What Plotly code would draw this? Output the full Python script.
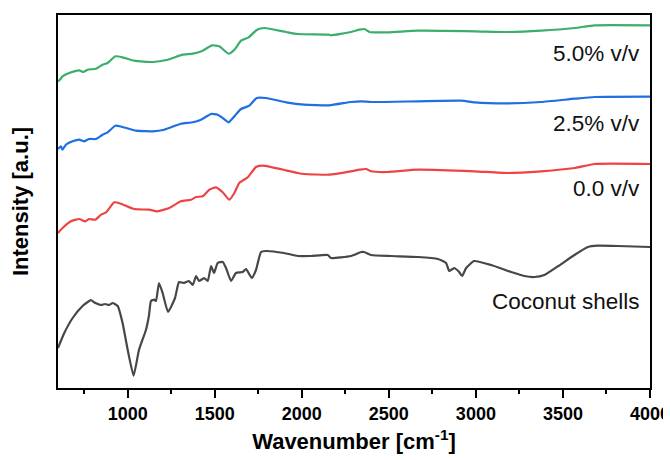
import plotly.graph_objects as go

# Wavenumber (cm-1) and intensity (a.u., offset traces)
coco_w = [600, 636, 684, 741, 779, 789, 815, 847, 870, 893, 914, 943, 971, 996, 1034, 1065, 1105, 1122, 1134, 1153,
          1163, 1180, 1201, 1232, 1272, 1295, 1324, 1352, 1374, 1393, 1410, 1439, 1460, 1479, 1496, 1517, 1546, 1565,
          1594, 1622, 1661, 1680, 1713, 1737, 1766, 1795, 1898, 1977, 2053, 2149, 2168, 2283, 2341, 2358, 2398, 2513,
          2667, 2782, 2829, 2847, 2875, 2904, 2921, 2944, 2990, 3088, 3203, 3278, 3336, 3393, 3474, 3566, 3644, 3701,
          3816, 4000]
coco_i = [40, 55, 70, 82, 87, 88, 85, 83, 84, 83, 85, 82, 65, 42, 12.3, 38, 58, 72, 87, 88.3,
          87, 105, 95, 76, 90, 106, 105, 107, 103, 112, 107, 110, 107, 122, 115, 125, 126, 120,
          107, 115, 116, 119, 110, 118, 136, 137, 135, 132, 132, 133, 130, 132, 136, 136, 133, 132,
          131, 129, 125, 117, 120, 116, 112, 120, 127, 123, 116, 112, 111, 113, 122, 133, 141, 142.3,
          142, 141]

red_w = [600, 626, 674, 722, 756, 779, 814, 847, 876, 923, 961, 1038, 1124, 1172, 1239, 1306, 1364, 1393, 1431, 1469,
         1507, 1546, 1584, 1613, 1641, 1690, 1737, 1776, 1910, 1977, 2013, 2157, 2283, 2331, 2370, 2398, 2494, 2667,
         2992, 3184, 3375, 3567, 3682, 4000]
red_i = [155, 160, 166.7, 169, 166.7, 169, 168.3, 173.3, 175.7, 185.7, 184.3, 179, 178.3, 176.7, 180, 186.7, 188.3,
         191, 191.7, 198.3, 200.7, 195.7, 188.3, 195, 205, 210.7, 221, 222.3, 217.7, 215, 214, 213.3, 216.7, 218.3,
         219, 216.7, 216, 218.3, 216.7, 215, 216.7, 220, 224, 224]

blue_w = [600, 617, 626, 645, 684, 722, 751, 779, 818, 856, 885, 929, 971, 1048, 1144, 1210, 1306, 1374, 1421, 1479,
          1517, 1546, 1580, 1613, 1651, 1699, 1741, 1795, 1910, 2013, 2157, 2283, 2341, 2398, 2667, 2916, 2992, 3184,
          3375, 3567, 3682, 4000]
blue_i = [239, 241.7, 238.3, 243.3, 246.7, 248.3, 246.7, 249, 249, 253.3, 255.7, 262.3, 261, 257.3, 256.7, 258.3,
          264.3, 265.7, 268.3, 274, 273.3, 270, 265.7, 271.7, 279, 282.3, 290, 290, 285.7, 283.3, 282.7, 286, 286.7,
          286, 286.7, 287.3, 285.7, 284.7, 286, 289.3, 291, 291.3]

green_w = [600, 611, 626, 664, 722, 745, 770, 818, 856, 885, 929, 971, 1038, 1144, 1230, 1316, 1374, 1431, 1484,
           1526, 1580, 1613, 1651, 1695, 1743, 1785, 1910, 1977, 2157, 2168, 2283, 2331, 2360, 2389, 2494, 2667, 2992,
           3184, 3375, 3567, 3682, 4000]
green_i = [306.7, 308.3, 311.7, 315, 317.7, 316, 318.3, 319.3, 323.3, 325, 331.7, 330.7, 327.3, 326, 328.3, 333.3,
           334.3, 337.3, 342.7, 341.7, 334.3, 338.3, 347.3, 350.7, 358.3, 360, 356, 354, 353.3, 352.7, 356, 358.3, 359,
           356, 355.7, 357.3, 356.7, 356, 357.3, 360, 362.7, 362.7]

tick_vals = [1000, 1500, 2000, 2500, 3000, 3500, 4000]
minor_vals = [750, 1250, 1750, 2250, 2750, 3250, 3750]

series = [
    ("Coconut shells", coco_w, coco_i, "#474747"),
    ("0.0 v/v", red_w, red_i, "#ee4343"),
    ("2.5% v/v", blue_w, blue_i, "#1f6fe0"),
    ("5.0% v/v", green_w, green_i, "#3cae6c"),
]
label_y = {"Coconut shells": 0.233, "0.0 v/v": 0.535, "2.5% v/v": 0.71, "5.0% v/v": 0.898}

font = "Arial, Liberation Sans"
fig = go.Figure()
for name, w, i, c in series:
    fig.add_trace(go.Scatter(x=w, y=i, mode="lines", name=name,
                             line=dict(color=c, width=2.2, shape="spline", smoothing=0.45)))
    fig.add_annotation(text=name, xref="paper", yref="paper", x=1, y=label_y[name],
                       xanchor="right", yanchor="middle", xshift=-8, showarrow=False,
                       font=dict(family=font, size=22.5, color="#111"))

fig.update_layout(
    width=671, height=460,
    margin=dict(l=50, r=29, t=7, b=80, autoexpand=False),
    paper_bgcolor="white", plot_bgcolor="white",
    showlegend=False,
    xaxis=dict(range=[600, 4000], showgrid=False, zeroline=False, automargin=False,
               showline=True, linecolor="black", linewidth=2, mirror=True,
               ticks="outside", ticklen=8, tickwidth=1.5, tickcolor="black",
               tickvals=tick_vals,
               minor=dict(tickvals=minor_vals, ticks="outside", ticklen=4,
                          tickwidth=1.5, tickcolor="black"),
               tickfont=dict(family=font, size=18, color="black", weight="bold"),
               title=dict(text="Wavenumber [cm<sup>-1</sup>]", standoff=11,
                          font=dict(family=font, size=22, color="black", weight="bold"))),
    yaxis=dict(range=[0, 373], showgrid=False, zeroline=False, showticklabels=False, ticks="", automargin=False,
               showline=True, linecolor="black", linewidth=2, mirror=True,
               title=dict(text="Intensity [a.u.]", standoff=26,
                          font=dict(family=font, size=22, color="black", weight="bold"))),
)

fig.write_html("out.html")
